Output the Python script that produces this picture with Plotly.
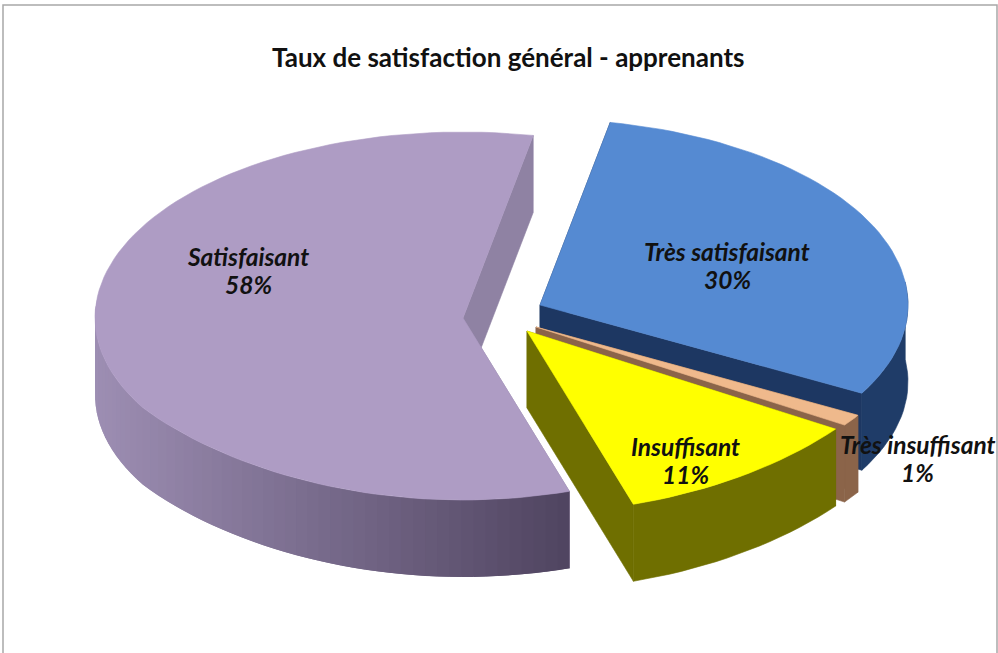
import math
import plotly.graph_objects as go

categories = ["Très satisfaisant", "Très insuffisant", "Insuffisant", "Satisfaisant"]
values = [30, 1, 11, 58]
title_text = "Taux de satisfaction général - apprenants"

start_angle = 11.0
rx, ry_top, ry_bottom = 368.0, 186.0, 182.0
front_squeeze = 0.06
depth = 77.0
apex_x = [540, 536, 527, 463]
apex_y = [305, 327, 331, 318]
top_colors = ["#558ad2", "#efb98c", "#ffff00", "#ae9cc4"]
cut_colors = ["#1d3762", "#8b6449", "#6f6f00", "#8f82a3"]
wall_left = ["#1f3c68", "#8b6449", "#6f6f00", "#9d8eb3"]
wall_right = ["#1f3c68", "#8b6449", "#6f6f00", "#4f4460"]
label_x = [727, 917, 685, 248]
label_y = [265, 458, 460, 270]


def rim(i, t):
    a = math.radians(t)
    c = math.cos(a)
    squeeze = 1 + front_squeeze * min(0.0, c + 0.5) / 0.5
    return apex_x[i] + rx * math.sin(a) * squeeze, apex_y[i] - c * (ry_top if c > 0 else ry_bottom)


def mix(c1, c2, f):
    p = [int(c1[k:k + 2], 16) for k in (1, 3, 5)]
    q = [int(c2[k:k + 2], 16) for k in (1, 3, 5)]
    return "rgb({},{},{})".format(*[round(a + (b - a) * f) for a, b in zip(p, q)])


def poly(fig, pts, color, width=0.6):
    xs = [p[0] for p in pts] + [pts[0][0]]
    ys = [p[1] for p in pts] + [pts[0][1]]
    fig.add_trace(go.Scatter(x=xs, y=ys, mode="lines", fill="toself", fillcolor=color,
                             line=dict(color=color, width=width), hoverinfo="skip",
                             showlegend=False))


fig = go.Figure()
bounds = []
t = start_angle
for v in values:
    bounds.append((t, t + v * 3.6))
    t += v * 3.6

for i in [3, 0, 1, 2]:
    t0, t1 = bounds[i]
    apex = (apex_x[i], apex_y[i])
    steps = max(4, int((t1 - t0) / 2))
    ts = [t0 + (t1 - t0) * k / steps for k in range(steps + 1)]
    arc = [rim(i, a) for a in ts]
    for a in (t0, t1):
        p = rim(i, a)
        poly(fig, [apex, p, (p[0], p[1] + depth), (apex[0], apex[1] + depth)], cut_colors[i])
    xmin, xmax = min(p[0] for p in arc), max(p[0] for p in arc)
    lower = [p for p, a in zip(arc, ts) if math.cos(math.radians(a)) < 0.15]
    if wall_left[i] == wall_right[i]:
        poly(fig, lower + [(p[0], p[1] + depth) for p in reversed(lower)], wall_left[i])
    else:
        # painted from the far end of the arc, each step overlapping the one before it
        for k in range(len(lower) - 2, -1, -1):
            seg = lower[max(0, k - 1):k + 2]
            mid = (lower[k][0] + lower[k + 1][0]) / 2
            f = (mid - xmin) / max(1, xmax - xmin)
            poly(fig, seg + [(p[0], p[1] + depth) for p in reversed(seg)],
                 mix(wall_left[i], wall_right[i], f), 0)
    poly(fig, [apex] + arc, top_colors[i])

for i, c in enumerate(categories):
    for text, dy in ((c, -14), (f"{values[i]}%", 14)):
        fig.add_annotation(x=label_x[i], y=label_y[i] + dy, text=f"<b><i>{text}</i></b>",
                           showarrow=False, font=dict(family="Lato", size=24.5, color="#111111"))

fig.add_annotation(x=508, y=57, text=f"<b>{title_text}</b>", showarrow=False,
                   font=dict(family="Lato", size=26, color="#111111"))

fig.add_shape(type="rect", x0=3, y0=5, x1=997, y1=660, line=dict(color="#a8a8a8", width=1.5),
              fillcolor="rgba(0,0,0,0)", layer="below")

fig.update_layout(
    width=998, height=653, margin=dict(l=0, r=0, t=0, b=0),
    paper_bgcolor="white", plot_bgcolor="white", showlegend=False,
    xaxis=dict(range=[0, 998], visible=False, fixedrange=True),
    yaxis=dict(range=[653, 0], visible=False, fixedrange=True),
)
fig.write_html("out.html", config={"displayModeBar": False},
               post_script="document.body.style.margin='0';document.body.style.overflow='hidden';")
